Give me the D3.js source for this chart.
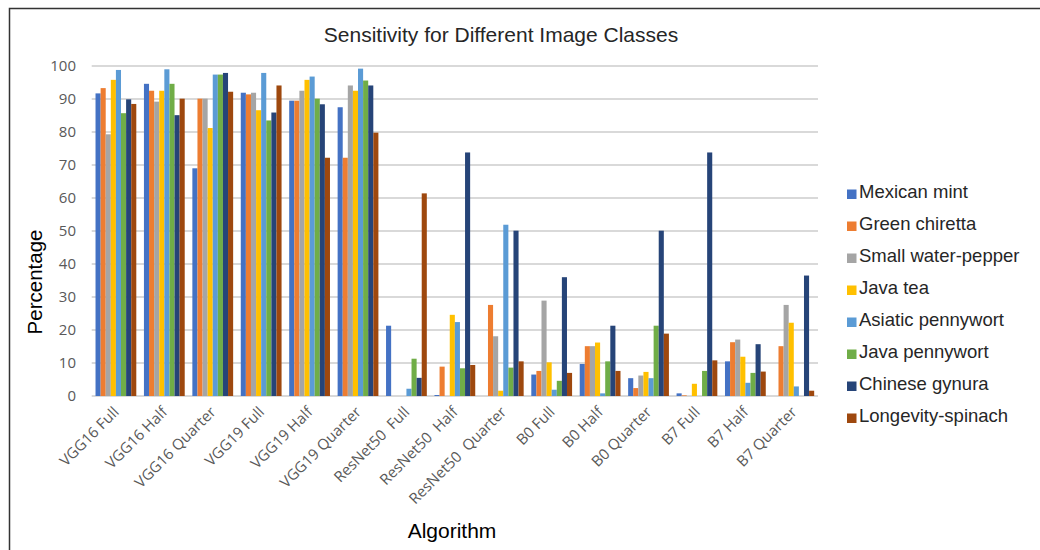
<!DOCTYPE html>
<html>
<head>
<meta charset="utf-8">
<script src="https://cdn.jsdelivr.net/npm/d3@7/dist/d3.min.js"></script>
<style>
  html, body { margin: 0; padding: 0; background: #fff; }
  svg { display: block; }
</style>
</head>
<body>
<svg id="chart" width="1040" height="550"></svg>
<script>
// Algorithms (x-axis groups)
const categories = [
  "VGG16 Full", "VGG16 Half", "VGG16 Quarter",
  "VGG19 Full", "VGG19 Half", "VGG19 Quarter",
  "ResNet50  Full", "ResNet50  Half", "ResNet50  Quarter",
  "B0 Full", "B0 Half", "B0 Quarter",
  "B7 Full", "B7 Half", "B7 Quarter"
];

// Image classes (series)
const seriesNames = [
  "Mexican mint", "Green chiretta", "Small water-pepper", "Java tea",
  "Asiatic pennywort", "Java pennywort", "Chinese gynura", "Longevity-spinach"
];

const seriesColors = [
  "#4472C4", "#ED7D31", "#A5A5A5", "#FFC000",
  "#5B9BD5", "#70AD47", "#264478", "#9E480E"
];

// Sensitivity (%) per series, one value per algorithm
const mexicanMint      = [91.7, 94.6, 69.0, 91.9, 89.5, 87.5, 21.3, 0.3, 0, 6.5, 9.7, 5.4, 0.8, 10.5, 0];
const greenChiretta    = [93.3, 92.5, 90.1, 91.4, 89.5, 72.2, 0, 8.9, 27.6, 7.6, 15.1, 2.4, 0.2, 16.3, 15.1];
const smallWaterPepper = [79.3, 89.2, 90.1, 91.9, 92.5, 94.1, 0, 0, 18.1, 28.9, 15.1, 6.2, 0, 17.1, 27.6];
const javaTea          = [95.8, 92.5, 81.2, 86.6, 95.8, 92.5, 0, 24.6, 1.6, 10.2, 16.2, 7.3, 3.7, 11.9, 22.2];
const asiaticPennywort = [98.8, 99.0, 97.4, 97.9, 96.8, 99.2, 2.2, 22.4, 51.9, 1.9, 0.8, 5.4, 0, 4.0, 2.9];
const javaPennywort    = [85.7, 94.6, 97.4, 83.5, 90.1, 95.6, 11.3, 8.4, 8.6, 4.6, 10.5, 21.3, 7.6, 7.0, 0];
const chineseGynura    = [89.9, 85.1, 97.9, 85.9, 88.4, 94.1, 5.5, 73.8, 50.1, 36.0, 21.3, 50.1, 73.8, 15.7, 36.5];
const longevitySpinach = [88.5, 90.1, 92.2, 94.1, 72.2, 79.8, 61.4, 9.4, 10.5, 7.0, 7.6, 18.9, 10.8, 7.4, 1.6];

const yTicks = [0, 10, 20, 30, 40, 50, 60, 70, 80, 90, 100];

const seriesValues = [
  mexicanMint, greenChiretta, smallWaterPepper, javaTea,
  asiaticPennywort, javaPennywort, chineseGynura, longevitySpinach
];

const svg = d3.select("#chart");

// Chart frame
svg.append("path")
  .attr("d", "M9.5,560 V8.5 H1050")
  .attr("fill", "none")
  .attr("stroke", "#333")
  .attr("stroke-width", 1.5);

const plot = { left: 91.7, right: 818, top: 66, bottom: 396 };

const x0 = d3.scaleBand()
  .domain(categories)
  .range([plot.left, plot.right])
  .paddingInner(0)
  .paddingOuter(0);

const x1 = d3.scaleBand()
  .domain(seriesNames)
  .range([0, x0.bandwidth()])
  .paddingInner(0)
  .paddingOuter(0.75);

const y = d3.scaleLinear()
  .domain([0, 100])
  .range([plot.bottom, plot.top]);

// Horizontal gridlines
svg.append("g")
  .selectAll("line")
  .data(yTicks)
  .join("line")
  .attr("x1", plot.left)
  .attr("x2", plot.right)
  .attr("y1", d => y(d))
  .attr("y2", d => y(d))
  .attr("stroke", "#d9d9d9")
  .attr("stroke-width", 2);

// Y tick labels
svg.append("g")
  .selectAll("text")
  .data(yTicks)
  .join("text")
  .attr("x", 76)
  .attr("y", d => y(d))
  .attr("dy", "0.35em")
  .attr("text-anchor", "end")
  .attr("font-family", "'Open Sans', sans-serif")
  .attr("font-size", 15)
  .attr("fill", "#595959")
  .text(d => d);

// Bars
const groups = svg.append("g")
  .selectAll("g")
  .data(categories)
  .join("g")
  .attr("transform", d => `translate(${x0(d)},0)`);

groups.selectAll("rect")
  .data((d, i) => seriesNames.map((s, k) => ({ series: s, k, value: seriesValues[k][i] })))
  .join("rect")
  .attr("x", d => x1(d.series))
  .attr("width", x1.bandwidth())
  .attr("y", d => y(d.value))
  .attr("height", d => y(0) - y(d.value))
  .attr("fill", d => seriesColors[d.k]);

// Category labels, rotated
svg.append("g")
  .selectAll("text")
  .data(categories)
  .join("text")
  .attr("transform", d => `translate(${x0(d) + x0.bandwidth() / 2 + 4},413) rotate(-45)`)
  .attr("text-anchor", "end")
  .attr("font-family", "'Open Sans', sans-serif")
  .attr("font-size", 15)
  .attr("fill", "#595959")
  .style("white-space", "pre")
  .text(d => d);

// Title
svg.append("text")
  .attr("x", 501)
  .attr("y", 42)
  .attr("text-anchor", "middle")
  .attr("font-family", "'Liberation Sans', Arial, sans-serif")
  .attr("font-size", 21)
  .attr("fill", "#262626")
  .text("Sensitivity for Different Image Classes");

// Axis titles
svg.append("text")
  .attr("transform", "translate(42,282) rotate(-90)")
  .attr("text-anchor", "middle")
  .attr("font-family", "'Liberation Sans', Arial, sans-serif")
  .attr("font-size", 20.5)
  .attr("fill", "#000")
  .text("Percentage");

svg.append("text")
  .attr("x", 452)
  .attr("y", 538)
  .attr("text-anchor", "middle")
  .attr("font-family", "'Liberation Sans', Arial, sans-serif")
  .attr("font-size", 21)
  .attr("fill", "#000")
  .text("Algorithm");

// Legend
const legend = svg.append("g")
  .selectAll("g")
  .data(seriesNames)
  .join("g")
  .attr("transform", (d, i) => `translate(847,${198 + i * 32})`);

legend.append("rect")
  .attr("x", 0)
  .attr("y", -8.5)
  .attr("width", 9.5)
  .attr("height", 9.5)
  .attr("fill", (d, i) => seriesColors[i]);

legend.append("text")
  .attr("x", 12)
  .attr("y", 0)
  .attr("font-family", "'Liberation Sans', Arial, sans-serif")
  .attr("font-size", 18.5)
  .attr("fill", "#262626")
  .text(d => d);
</script>
</body>
</html>
